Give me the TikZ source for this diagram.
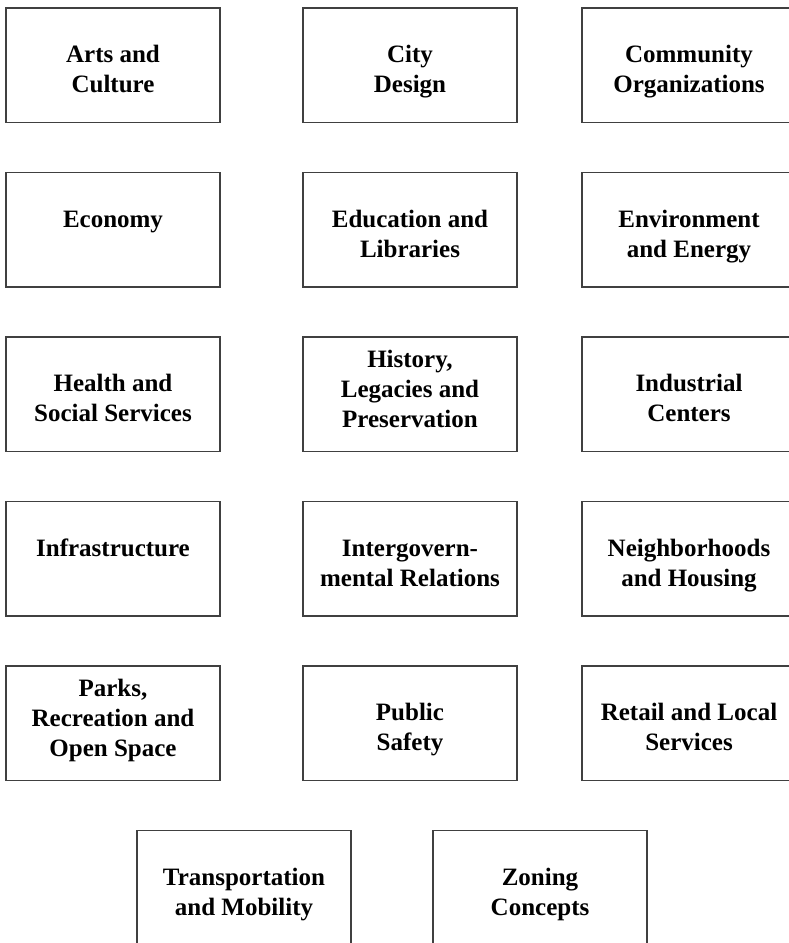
\documentclass[tikz,border=0pt]{standalone}
\usepackage{fontspec}
\setmainfont{Liberation Serif}
\usetikzlibrary{positioning}

% box text, baseline on the first line
\newcommand{\boxlines}[1]{\begin{tabular}[t]{@{}c@{}}#1\end{tabular}}

\begin{document}
\begin{tikzpicture}[
    x=1pt, y=-1pt,
    font=\bfseries\fontsize{25}{30}\selectfont,
    node distance=48.6pt and 81.6pt,
    topic/.style={draw=black!75, line width=1.4pt, minimum width=214pt, minimum height=114.5pt, inner sep=0pt,
      text height=21pt, text depth=26.5pt},
    tall/.style={text depth=75.5pt}
  ]
    \useasboundingbox (0,0) rectangle (788,943);

    % first column
    \node[topic] (arts) at (113,65.25) {\boxlines{Arts and\\Culture}};
    \node[topic, below=of arts] (econ) {\boxlines{Economy}};
    \node[topic, below=of econ] (health) {\boxlines{Health and\\Social Services}};
    \node[topic, below=of health] (infra) {\boxlines{Infrastructure}};
    \node[topic, tall, below=of infra] (parks) {\boxlines{Parks,\\Recreation and\\Open Space}};

    % second column
    \node[topic, right=of arts] (design) {\boxlines{City\\Design}};
    \node[topic, below=of design] (edu) {\boxlines{Education and\\Libraries}};
    \node[topic, tall, below=of edu] (history) {\boxlines{History,\\Legacies and\\Preservation}};
    \node[topic, below=of history] (intergov) {\boxlines{Intergovern-\\mental Relations}};
    \node[topic, below=of intergov] (safety) {\boxlines{Public\\Safety}};

    % third column
    \node[topic, right=63.6pt of design] (community) {\boxlines{Community\\Organizations}};
    \node[topic, below=of community] (env) {\boxlines{Environment\\and Energy}};
    \node[topic, below=of env] (industry) {\boxlines{Industrial\\Centers}};
    \node[topic, below=of industry] (housing) {\boxlines{Neighborhoods\\and Housing}};
    \node[topic, below=of housing] (retail) {\boxlines{Retail and Local\\Services}};

    % last row
    \node[topic, below right=48.6pt and -84.4pt of parks] (transport) {\boxlines{Transportation\\and Mobility}};
    \node[topic, right=80.6pt of transport] (zoning) {\boxlines{Zoning\\Concepts}};
  \end{tikzpicture}
\end{document}
